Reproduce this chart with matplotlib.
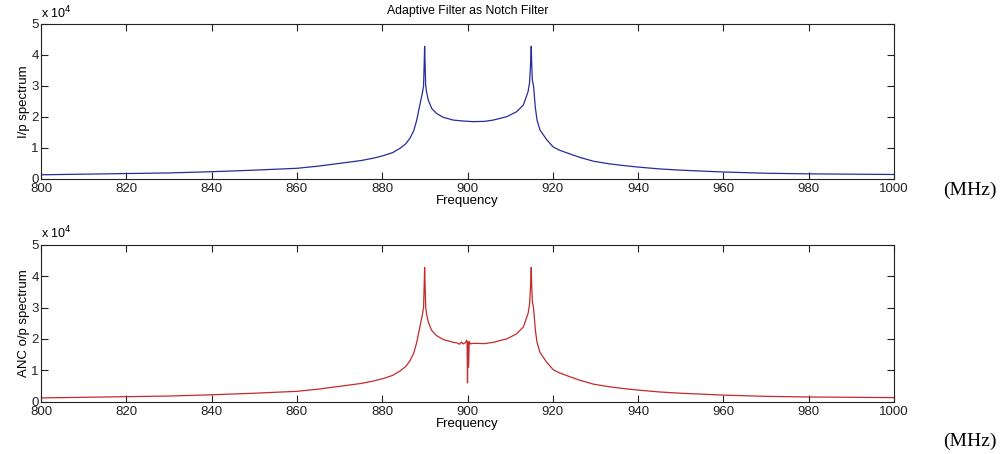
import numpy as np
import matplotlib
matplotlib.use('Agg')
from matplotlib import pyplot as plt

# values (x 1e4)
freq = [800, 810, 820, 830, 840, 850, 860, 865, 870, 875, 878, 880.3, 882.5, 884.2,
        885.5, 886.5, 887.4, 888.1, 888.9, 889.4, 889.7, 889.85, 889.95, 890.05, 890.2,
        890.4, 890.8, 891.6, 892.7, 894.3, 896.7, 899, 901.3, 904, 906, 909.2, 911.5, 913.1,
        914.2, 914.55, 914.8, 914.95, 915.05, 915.2, 915.5, 915.9, 916.3, 917, 918.6, 920.1,
        921.5, 923.3, 926.4, 929.5, 933, 936.5, 940, 945, 950, 960, 970, 980, 990, 1000]
ip_spectrum = [0.12, 0.14, 0.16, 0.18, 0.22, 0.27, 0.33, 0.40, 0.49, 0.58, 0.66, 0.74, 0.84, 0.98,
               1.12, 1.3, 1.55, 1.89, 2.43, 2.75, 3.0, 3.73, 4.28, 3.73, 3.0,
               2.8, 2.54, 2.27, 2.11, 1.98, 1.89, 1.86, 1.84, 1.85, 1.89, 2.0, 2.16, 2.38,
               2.81, 3.1, 3.73, 4.28, 3.73, 3.2, 2.97, 2.3, 1.89, 1.57, 1.25, 1.02,
               0.92, 0.83, 0.68, 0.56, 0.48, 0.42, 0.37, 0.31, 0.27, 0.21, 0.17, 0.15, 0.14, 0.13]

# the notch the ANC puts in at 900 MHz
notch_freq = [897.6, 898.1, 898.6, 899.0, 899.5, 899.8, 899.9, 900.0, 900.1, 900.25, 900.4, 900.7, 901.3]
notch_vals = [1.87, 1.83, 1.90, 1.84, 1.88, 1.96, 1.9, 0.6, 1.9, 1.1, 1.92, 1.84, 1.86]

keep = [i for i, f in enumerate(freq) if not (897 < f < 902)]
anc = sorted([(freq[i], ip_spectrum[i]) for i in keep] + list(zip(notch_freq, notch_vals)))
anc_freq = [a[0] for a in anc]
anc_spectrum = [a[1] for a in anc]

plt.rcParams['font.family'] = ['Liberation Sans', 'DejaVu Sans']
plt.rcParams['font.size'] = 9.5

fig = plt.figure(figsize=(10.03, 4.54), dpi=100)
ax1 = fig.add_axes([41/1003, 1-178.5/454, 853/1003, 154.5/454])
ax2 = fig.add_axes([41/1003, 1-401.7/454, 853/1003, 157/454])

for ax, x, y, col, lab in [(ax1, freq, ip_spectrum, '#2a2a9c', 'I/p spectrum'),
                           (ax2, anc_freq, anc_spectrum, '#c42a2a', 'ANC o/p spectrum')]:
    ax.plot(x, np.array(y) * 1e4, color=col, lw=0.9)
    ax.set_xlim(800, 1000)
    ax.set_ylim(0, 5e4)
    ax.set_xticks(np.arange(800, 1001, 20))
    ax.set_yticks(np.arange(0, 5.1e4, 1e4))
    ax.set_yticklabels([str(i) for i in range(6)])
    ax.tick_params(direction='in', top=True, right=True, length=5, width=0.8,
                   labelsize=9.5, colors='#222222')
    ax.tick_params(axis='x', pad=3)
    ax.tick_params(axis='y', pad=1.5)
    for s in ax.spines.values():
        s.set_linewidth(0.8)
        s.set_color('#222222')
    ax.set_xlabel('Frequency', fontsize=9.5, labelpad=0)
    ax.set_ylabel(lab, fontsize=9.5, labelpad=1)
    ax.text(0, 1.02, r'x 10$^{4}$', transform=ax.transAxes, fontsize=9, va='bottom', ha='left')

ax1.set_title('Adaptive Filter as Notch Filter', fontsize=8.8, pad=7)

fig.text(943/1003, 1-190/454, '(MHz)', family='Liberation Serif', fontsize=14, va='center')
fig.text(943/1003, 1-441/454, '(MHz)', family='Liberation Serif', fontsize=14, va='center')

fig.savefig('out.png', dpi=100)
